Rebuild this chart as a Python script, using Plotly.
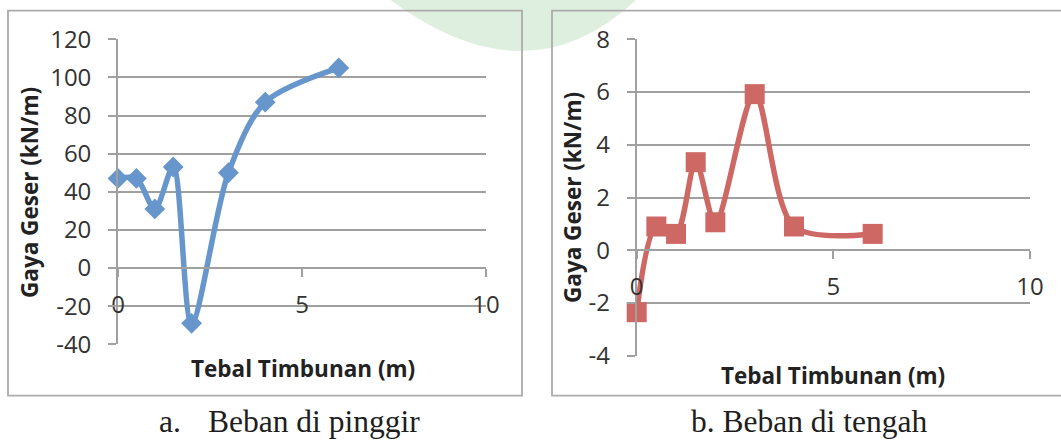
import plotly.graph_objects as go

# Figure size in pixels
W, H = 1061, 441

# Data: shear force vs. embankment thickness
tebal = [0, 0.5, 1, 1.5, 2, 3, 4, 6]                       # Tebal Timbunan (m)
geser_pinggir = [47, 47, 31, 53, -29, 50, 87, 105]          # load at the edge (kN/m)
geser_tengah = [-2.35, 0.9, 0.62, 3.34, 1.06, 5.92, 0.9, 0.62]  # load at the centre (kN/m)

x_ticks = [0, 5, 10]
y_ticks_pinggir = [-40, -20, 0, 20, 40, 60, 80, 100, 120]
y_ticks_tengah = [-4, -2, 0, 2, 4, 6, 8]

x_title = "Tebal Timbunan (m)"
y_title = "Gaya Geser (kN/m)"


def px(x):
    return x / W


def py(y):
    return 1 - y / H


BLUE = "rgb(102,150,204)"
RED = "rgb(205,104,100)"
GRID = "#a0a0a0"
TICK_FONT = dict(family="Open Sans", size=24, color="#333333")
TITLE_FONT = dict(family="Open Sans", size=22.5, color="#222222")
CAP_FONT = dict(family="Liberation Serif", size=31.5, color="#1e1e1e")

# Plot area boxes (pixels)
L_X0, L_X1, L_YT, L_YB = 118, 486, 39.3, 344.3
R_X0, R_X1, R_YT, R_YB = 636.7, 1030, 39.3, 355.7

fig = go.Figure()

fig.add_trace(go.Scatter(
    x=tebal, y=geser_pinggir, mode="lines+markers",
    line=dict(color=BLUE, width=5.5, shape="spline", smoothing=0.85),
    marker=dict(symbol="diamond", size=16, color=BLUE),
    xaxis="x", yaxis="y", showlegend=False, cliponaxis=False,
))
fig.add_trace(go.Scatter(
    x=tebal, y=geser_tengah, mode="lines+markers",
    line=dict(color=RED, width=5.5, shape="spline", smoothing=0.85),
    marker=dict(symbol="square", size=20, color=RED),
    xaxis="x2", yaxis="y2", showlegend=False, cliponaxis=False,
))


def x_axis(domain, ydom, yr):
    # the category axis crosses the value axis at zero
    frac = (0 - yr[0]) / (yr[1] - yr[0])
    pos = ydom[0] + frac * (ydom[1] - ydom[0])
    return dict(
        domain=domain, range=[0, 10], anchor="free", position=pos,
        showgrid=False, zeroline=False, showline=True, linecolor=GRID, linewidth=1.7,
        ticks="outside", ticklen=8, tickwidth=1.7, tickcolor=GRID,
        tickvals=x_ticks, ticktext=[str(v) for v in x_ticks],
        tickfont=TICK_FONT, ticklabelstandoff=7,
    )


def y_axis(domain, yr, vals, anchor):
    return dict(
        domain=domain, range=yr, anchor=anchor,
        showgrid=True, gridcolor=GRID, gridwidth=1.7, zeroline=False,
        showline=True, linecolor=GRID, linewidth=1.7,
        ticks="outside", ticklen=8, tickwidth=1.7, tickcolor=GRID,
        tickvals=vals, ticktext=[str(v) for v in vals],
        tickfont=TICK_FONT, ticklabelstandoff=12,
    )


ydom_l = [py(L_YB), py(L_YT)]
ydom_r = [py(R_YB), py(R_YT)]

fig.update_layout(
    width=W, height=H,
    margin=dict(l=0, r=0, t=0, b=0, autoexpand=False),
    paper_bgcolor="white", plot_bgcolor="rgba(0,0,0,0)",
    xaxis=x_axis([px(L_X0), px(L_X1)], ydom_l, [-40, 120]),
    yaxis=y_axis(ydom_l, [-40, 120], y_ticks_pinggir, "x"),
    xaxis2=x_axis([px(R_X0), px(R_X1)], ydom_r, [-4, 8]),
    yaxis2=y_axis(ydom_r, [-4, 8], y_ticks_tengah, "x2"),
)

# Faint logo watermark at the top, chart frames
fig.add_shape(type="path", xref="paper", yref="paper", layer="below",
              path=f"M {px(388)},{py(-2)} Q {px(528)},{py(104)} {px(638)},{py(-2)} Z",
              fillcolor="rgba(110,180,110,0.22)", line=dict(width=0))
for x0, x1 in [(8, 522), (552, 1075)]:
    fig.add_shape(type="rect", xref="paper", yref="paper", layer="below",
                  x0=px(x0), x1=px(x1), y0=py(395.7), y1=py(10.7),
                  line=dict(color="#ababab", width=1.8), fillcolor="rgba(0,0,0,0)")

annotations = [
    dict(text=f"<b>{y_title}</b>", x=px(29), y=py(193), textangle=-90, font=TITLE_FONT),
    dict(text=f"<b>{y_title}</b>", x=px(572), y=py(198), textangle=-90, font=TITLE_FONT),
    dict(text=f"<b>{x_title}</b>", x=px(302.5), y=py(368), font=TITLE_FONT),
    dict(text=f"<b>{x_title}</b>", x=px(833), y=py(375), font=TITLE_FONT),
    dict(text="a.", x=px(157), y=py(421), xanchor="left", font=CAP_FONT),
    dict(text="Beban di pinggir", x=px(206), y=py(421), xanchor="left", font=CAP_FONT),
    dict(text="b. Beban di tengah", x=px(809), y=py(421), font=CAP_FONT),
]
for a in annotations:
    a.setdefault("xanchor", "center")
    fig.add_annotation(xref="paper", yref="paper", yanchor="middle", showarrow=False, **a)

fig.write_html("out.html")
